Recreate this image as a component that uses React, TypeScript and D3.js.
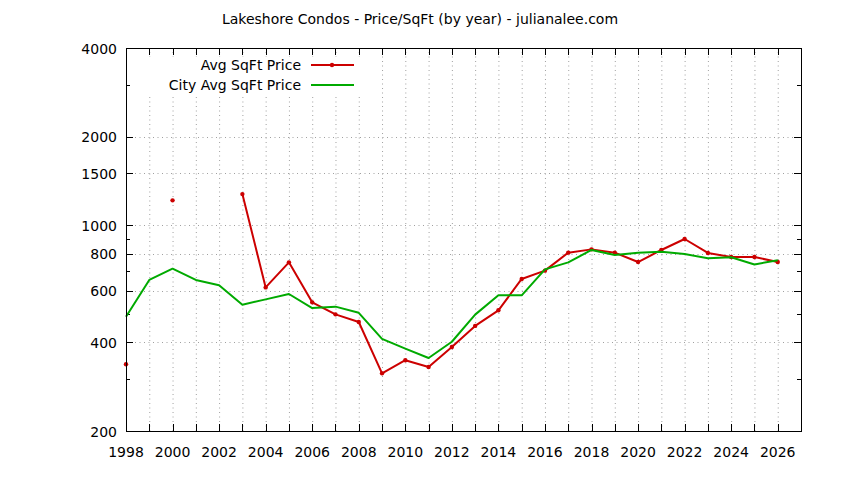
import React, { useEffect, useRef } from 'react';
import * as d3 from 'd3';

const title = 'Lakeshore Condos - Price/SqFt (by year) - julianalee.com';

const years = [
  1998, 1999, 2000, 2001, 2002, 2003, 2004, 2005, 2006, 2007, 2008, 2009, 2010, 2011, 2012,
  2013, 2014, 2015, 2016, 2017, 2018, 2019, 2020, 2021, 2022, 2023, 2024, 2025, 2026,
];

// condo average, gaps where no sales
const avgPrice: (number | null)[] = [
  337, null, 1215, null, null, 1276, 615, 748, 547, 498, 469, 314, 348, 330, 386,
  455, 514, 657, 701, 807, 828, 807, 750, 824, 898, 805, 780, 780, 750,
];

const cityPrice = [
  489, 652, 712, 652, 625, 537, 560, 584, 523, 529, 504, 411, 381, 354, 402,
  497, 578, 578, 708, 748, 824, 792, 807, 813, 798, 772, 778, 736, 760,
];

const xLabels = [1998, 2000, 2002, 2004, 2006, 2008, 2010, 2012, 2014, 2016, 2018, 2020, 2022, 2024, 2026];
const yLabels = [200, 400, 600, 800, 1000, 1500, 2000, 4000];
const yMinor = [300, 500, 700, 900, 3000];

const seriesNames = ['Avg SqFt Price', 'City Avg SqFt Price'];
const RED = '#cc0000';
const GREEN = '#00aa00';

const Chart = () => {
  const ref = useRef<SVGSVGElement>(null);

  useEffect(() => {
    if (!ref.current) return;
    const svg = d3.select(ref.current);
    svg.selectAll('*').remove();

    const width = 844;
    const height = 480;
    const margin = { top: 48, right: 43, bottom: 49, left: 126 };
    const font = 'DejaVu Sans';

    svg.attr('viewBox', `0 0 ${width} ${height}`);
    svg.append('rect').attr('width', width).attr('height', height).attr('fill', '#fff');

    const x = d3.scaleLinear().domain([1998, 2027]).range([margin.left, width - margin.right]);
    const y = d3.scaleLog().domain([200, 4000]).range([height - margin.bottom, margin.top]);

    const [x0, x1] = x.range();
    const [y0, y1] = y.range();

    // ------- Grid -------
    const grid = svg.append('g').attr('stroke', '#a0a0a0').attr('stroke-dasharray', '1,3.5').attr('stroke-width', 1);
    years.forEach((yr) => {
      if (yr === 1998) return;
      grid.append('line').attr('x1', x(yr) + 0.5).attr('x2', x(yr) + 0.5).attr('y1', y0).attr('y2', y1);
    });
    yLabels.forEach((v) => {
      if (v === 200 || v === 4000) return;
      grid.append('line').attr('x1', x0).attr('x2', x1).attr('y1', Math.round(y(v)) + 0.5).attr('y2', Math.round(y(v)) + 0.5);
    });

    // ------- Ticks (all four sides, inward) -------
    const ticks = svg.append('g').attr('stroke', '#000').attr('stroke-width', 1);
    years.forEach((yr) => {
      const px = Math.round(x(yr)) + 0.5;
      ticks.append('line').attr('x1', px).attr('x2', px).attr('y1', y0).attr('y2', y0 - 7);
      ticks.append('line').attr('x1', px).attr('x2', px).attr('y1', y1).attr('y2', y1 + 7);
    });
    yLabels.forEach((v) => {
      const py = Math.round(y(v)) + 0.5;
      ticks.append('line').attr('x1', x0).attr('x2', x0 + 7).attr('y1', py).attr('y2', py);
      ticks.append('line').attr('x1', x1).attr('x2', x1 - 7).attr('y1', py).attr('y2', py);
    });
    yMinor.forEach((v) => {
      const py = Math.round(y(v)) + 0.5;
      ticks.append('line').attr('x1', x0).attr('x2', x0 + 4).attr('y1', py).attr('y2', py);
      ticks.append('line').attr('x1', x1).attr('x2', x1 - 4).attr('y1', py).attr('y2', py);
    });

    // ------- Tick labels -------
    svg
      .append('g')
      .selectAll('text')
      .data(xLabels)
      .enter()
      .append('text')
      .attr('x', (d) => x(d))
      .attr('y', 456.5)
      .attr('text-anchor', 'middle')
      .attr('font-family', font)
      .attr('font-size', 14)
      .text((d) => d);

    svg
      .append('g')
      .selectAll('text')
      .data(yLabels)
      .enter()
      .append('text')
      .attr('x', 117)
      .attr('y', (d) => y(d) + 5.5)
      .attr('text-anchor', 'end')
      .attr('font-family', font)
      .attr('font-size', 14)
      .text((d) => d);

    // ------- Title -------
    svg
      .append('text')
      .attr('x', 420)
      .attr('y', 23.5)
      .attr('text-anchor', 'middle')
      .attr('font-family', font)
      .attr('font-size', 14)
      .text(title);

    // ------- Legend (opaque box) -------
    svg.append('rect').attr('x', 138).attr('y', 57).attr('width', 227).attr('height', 38).attr('fill', '#fff');
    const legendColors = [RED, GREEN];
    seriesNames.forEach((name, i) => {
      const ly = 65 + i * 20;
      svg
        .append('text')
        .attr('x', 301)
        .attr('y', ly + 5)
        .attr('text-anchor', 'end')
        .attr('font-family', font)
        .attr('font-size', 14)
        .text(name);
      svg
        .append('line')
        .attr('x1', 311)
        .attr('x2', 354)
        .attr('y1', ly)
        .attr('y2', ly)
        .attr('stroke', legendColors[i])
        .attr('stroke-width', 2);
      if (i === 0) {
        svg.append('circle').attr('cx', 332).attr('cy', ly).attr('r', 2.2).attr('fill', RED);
      }
    });

    // ------- Lines -------
    const avgData = years.map((yr, i) => ({ year: yr, value: avgPrice[i] }));
    const cityData = years.map((yr, i) => ({ year: yr, value: cityPrice[i] as number | null }));

    const line = d3
      .line<{ year: number; value: number | null }>()
      .defined((d) => d.value != null)
      .x((d) => x(d.year))
      .y((d) => y(d.value as number));

    svg
      .append('path')
      .datum(avgData)
      .attr('fill', 'none')
      .attr('stroke', RED)
      .attr('stroke-width', 2)
      .attr('stroke-linejoin', 'round')
      .attr('d', line);

    svg
      .selectAll('circle.pt')
      .data(avgData.filter((d) => d.value != null))
      .enter()
      .append('circle')
      .attr('class', 'pt')
      .attr('cx', (d) => x(d.year))
      .attr('cy', (d) => y(d.value as number))
      .attr('r', 2.2)
      .attr('fill', RED);

    svg
      .append('path')
      .datum(cityData)
      .attr('fill', 'none')
      .attr('stroke', GREEN)
      .attr('stroke-width', 2)
      .attr('stroke-linejoin', 'round')
      .attr('d', line);

    // ------- Border -------
    svg
      .append('rect')
      .attr('x', x0 + 0.5)
      .attr('y', y1 + 0.5)
      .attr('width', x1 - x0)
      .attr('height', y0 - y1)
      .attr('fill', 'none')
      .attr('stroke', '#000')
      .attr('stroke-width', 1);
  }, []);

  return <svg ref={ref} width={844} height={480} style={{ position: 'absolute', left: 0, top: 0, display: 'block' }} />;
};

export default function App() {
  return <Chart />;
}
